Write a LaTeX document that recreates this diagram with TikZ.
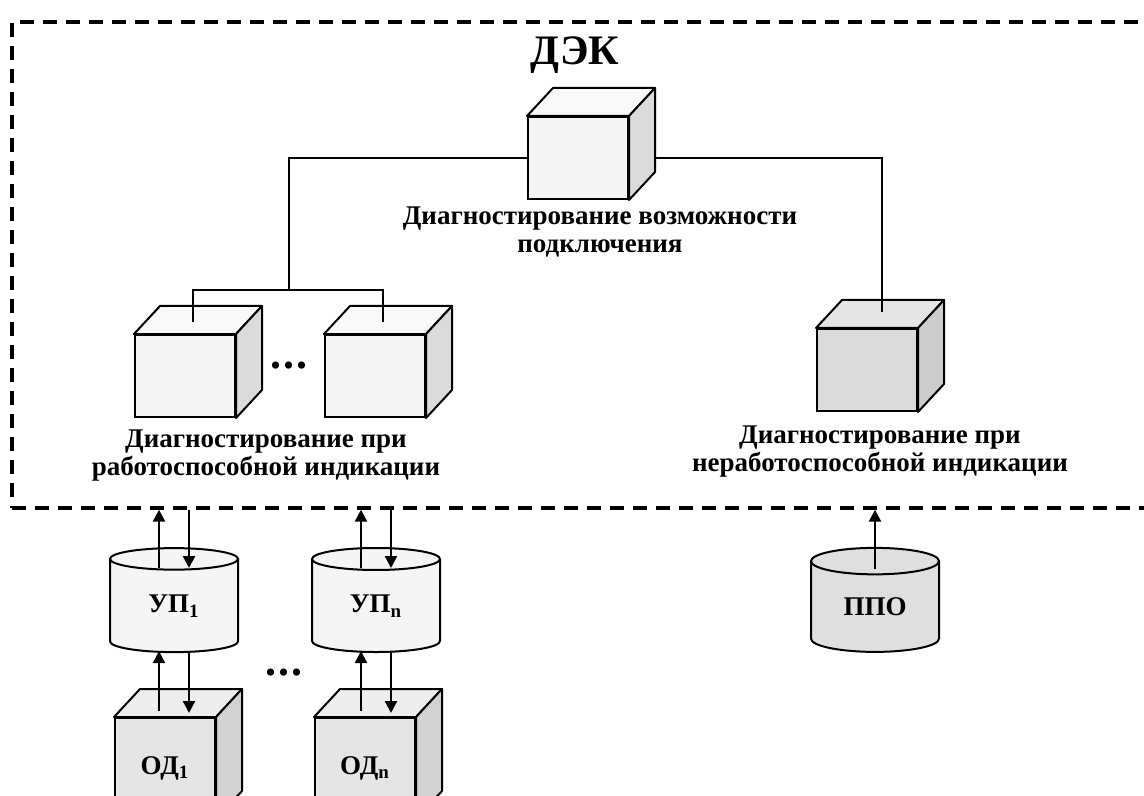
\documentclass[tikz,border=0pt]{standalone}
\usepackage{fontspec}
\setmainfont{Liberation Serif}
\usetikzlibrary{positioning,arrows.meta,shapes.geometric,calc}

% top and side faces of a cube drawn on a front node
\newcommand{\cubefaces}[3]{%
  \filldraw[fill=#2, line width=1pt, line join=round] (#1.north west) -- ++(13pt,14pt) -- ([shift={(13pt,14pt)}]#1.north east) -- (#1.north east) -- cycle;
  \filldraw[fill=#3, line width=1pt, line join=round] (#1.north east) -- ([shift={(13pt,14pt)}]#1.north east) -- ([shift={(13pt,14pt)}]#1.south east) -- (#1.south east) -- cycle;
}

\begin{document}
\begin{tikzpicture}[x=0.5pt, y=-0.5pt,
  every node/.style={font=\bfseries\fontsize{13.5}{14}\selectfont},
  cube/.style={draw, line width=1pt, fill=#1, minimum width=50pt, minimum height=41pt, inner sep=0pt},
  cube/.default=gray!8,
  store/.style={cylinder, shape border rotate=90, aspect=0.42, draw, line width=1pt, fill=#1, minimum width=64pt, minimum height=52pt, inner sep=0pt},
  store/.default=gray!8,
  frame/.style={draw, dash pattern=on 7pt off 4.5pt, line width=1.7pt, minimum width=574pt, minimum height=243pt},
  link/.style={line width=1pt},
  arr/.style={-{Triangle[length=6pt,width=6pt]}, line width=1.2pt},
  dots/.style={font=\bfseries\fontsize{22}{22}\selectfont},
  caption/.style={align=center}]
\useasboundingbox (0,0) rectangle (1144,796);
\clip (0,0) rectangle (1144,796);
\node[frame] (dek) at (586,265) {};
\node[font=\bfseries\fontsize{21}{21}\selectfont] (title) at (575,55) {ДЭК};
% cubes inside the complex
\node[cube] (conn) at (578,158) {};
\node[cube] (wk1) at (185,376) {};
\node[cube, right=44pt of wk1] (wkn) {};
\node[cube=gray!28] (nwk) at (867,370) {};
\cubefaces{conn}{gray!5}{gray!28}
\cubefaces{wk1}{gray!5}{gray!28}
\cubefaces{wkn}{gray!5}{gray!28}
\cubefaces{nwk}{gray!20}{gray!40}
\node[dots] (dotsA) at (289,366) {.\hspace{1pt}.\hspace{1pt}.};
\node[caption] (capconn) at (600,232) {Диагностирование возможности\\подключения};
\node[caption] (capwk) at (266,456) {Диагностирование при\\работоспособной индикации};
\node[caption] (capnwk) at (880,452) {Диагностирование при\\неработоспособной индикации};
% tree
\coordinate (fork) at (289,290);
\draw[link] (conn.west) -| (fork);
\draw[link] ([xshift=4pt,yshift=6pt]wk1.north) |- (fork) -| ([xshift=4pt,yshift=6pt]wkn.north);
\draw[link] ([xshift=12.5pt]conn.east) -| ([xshift=7.5pt,yshift=8pt]nwk.north);
% devices outside
\node[store] (up1) at (174,606) {УП\textsubscript{1}};
\node[store] (upn) at (376,606) {УП\textsubscript{n}};
\node[store=gray!25] (ppo) at (875,607) {ППО};
\node[cube=gray!20, minimum height=50pt] (od1) at (165,768) {ОД\textsubscript{1}};
\node[cube=gray!20, minimum height=50pt] (odn) at (365,768) {ОД\textsubscript{n}};
\cubefaces{od1}{gray!14}{gray!35}
\cubefaces{odn}{gray!14}{gray!35}
\node[dots] (dotsB) at (284,673) {.\hspace{1pt}.\hspace{1pt}.};
\foreach \u/\o in {up1/od1, upn/odn}{
  \draw[arr] ([xshift=-7.5pt,yshift=19pt]\u.center) -- ([xshift=-7.5pt]\u.center |- dek.south);
  \draw[arr] ([xshift=7.5pt]\u.center |- dek.south) -- ([xshift=7.5pt,yshift=19pt]\u.center);
  \draw[arr] ([xshift=-7.5pt,yshift=3pt]\u.south |- \o.north) -- ([xshift=-7.5pt,yshift=1pt]\u.south);
  \draw[arr] ([xshift=7.5pt,yshift=1pt]\u.south) -- ([xshift=7.5pt,yshift=2pt]\u.south |- \o.north);
}
\draw[arr] ([yshift=19pt]ppo.center) -- (ppo.center |- dek.south);
\end{tikzpicture}
\end{document}
